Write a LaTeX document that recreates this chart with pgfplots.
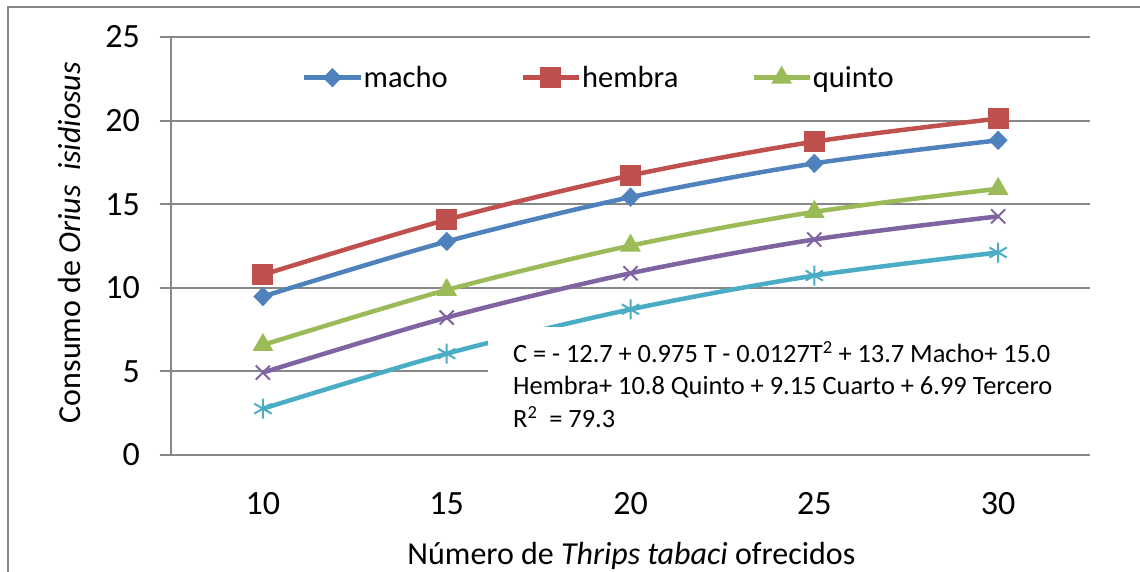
\documentclass[border=0pt]{standalone}
\usepackage{pgfplots}
\pgfplotsset{compat=1.18}
\usepackage{fontspec}
\setmainfont{Carlito}
\definecolor{cmacho}{HTML}{4F81BD}
\definecolor{chembra}{HTML}{C0504D}
\definecolor{cquinto}{HTML}{9BBB59}
\definecolor{ccuarto}{HTML}{8064A2}
\definecolor{ctercero}{HTML}{4BACC6}
\definecolor{gridgray}{HTML}{878787}
\begin{document}
\begin{tikzpicture}[x=1pt,y=1pt]
\useasboundingbox (0,0) rectangle (1140,572);
\draw[gridgray, line width=2pt] (8,0) -- (8,565) -- (1141,565);
\begin{axis}[
  at={(171pt,117pt)}, anchor=south west,
  scale only axis, width=919pt, height=418pt,
  xmin=7.5, xmax=32.5, ymin=0, ymax=25,
  xtick={10,15,20,25,30}, ytick={0,5,10,15,20,25},
  axis lines*=left, axis line style={gridgray, line width=2pt},
  ymajorgrids, major grid style={gridgray, line width=2pt},
  xtick style={draw=none}, ytick style={gridgray, line width=2pt},
  tick align=outside, major tick length=11pt,
  tick label style={font=\fontsize{34}{40}\selectfont},
  /pgf/number format/assume math mode=true,
  yticklabel style={anchor=east, inner sep=0pt, xshift=-20pt},
  xticklabel style={anchor=base, inner sep=0pt, yshift=-49pt},
  every axis y label/.style={at={(axis description cs:-0.110,0.508)}, rotate=90, anchor=center, font=\fontsize{32}{38}\selectfont},
  every axis x label/.style={at={(axis description cs:0.501,-0.263)}, anchor=base, font=\fontsize{32}{38}\selectfont},
  ylabel={Consumo de \textit{Orius}\ \ \textit{isidiosus}},
  xlabel={Número de \textit{Thrips tabaci} ofrecidos},
  legend style={at={(axis description cs:0.1425,0.9026)}, anchor=west, draw=none, fill=none, inner sep=0pt,
    font=\fontsize{30.5}{36}\selectfont, nodes={inner xsep=0pt, inner ysep=0pt},
    /tikz/every odd column/.append style={column sep=1pt},
    /tikz/every even column/.append style={column sep=73pt}},
  legend columns=3,
  legend image code/.code={\draw[#1, mark repeat=2, mark phase=2] plot coordinates {(0pt,0pt) (28pt,0pt) (56pt,0pt)};},
  every axis plot/.append style={line width=4.5pt, smooth},
  clip=false,
]
\addplot[cmacho, mark=diamond*, mark size=9pt, mark options={solid, line width=1pt, xscale=1.3}]
  coordinates {(10,9.48) (15,12.77) (20,15.42) (25,17.44) (30,18.82)};
\addlegendentry{macho}
\addplot[chembra, mark=square*, mark size=10pt, mark options={solid, line width=1pt}]
  coordinates {(10,10.78) (15,14.07) (20,16.72) (25,18.74) (30,20.12)};
\addlegendentry{hembra}
\addplot[cquinto, mark=triangle*, mark size=11pt, mark options={solid, line width=1pt}]
  coordinates {(10,6.58) (15,9.87) (20,12.52) (25,14.54) (30,15.92)};
\addlegendentry{quinto}
\addplot[ccuarto, mark=x, mark size=10pt, mark options={solid, line width=2pt}, forget plot]
  coordinates {(10,4.93) (15,8.22) (20,10.87) (25,12.89) (30,14.27)};
\addplot[ctercero, mark=asterisk, mark size=10pt, mark options={solid, line width=2pt}, forget plot]
  coordinates {(10,2.77) (15,6.06) (20,8.71) (25,10.73) (30,12.11)};
\end{axis}
\fill[white] (488,122) rectangle (1092,245);
\begin{scope}[every node/.style={anchor=base west, inner sep=0pt, font=\fontsize{26.4}{31}\selectfont}]
\node at (513,209) {\makebox[537pt][s]{C = - 12.7 + 0.975 T - 0.0127T\textsuperscript{2} + 13.7 Macho+ 15.0}};
\node at (513,177) {Hembra+ 10.8 Quinto + 9.15 Cuarto + 6.99 Tercero};
\node at (513,144) {R\textsuperscript{2}\ \ = 79.3};
\end{scope}
\end{tikzpicture}
\end{document}
